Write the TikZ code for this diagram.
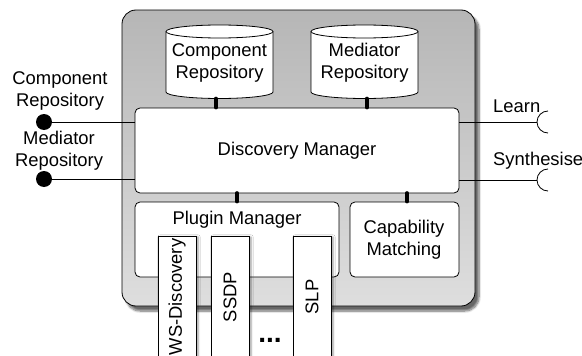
\documentclass[tikz,border=0pt]{standalone}
\usepackage{fontspec}
\setmainfont{Liberation Sans}
\usetikzlibrary{shadows.blur,calc}
\definecolor{grayA}{RGB}{182,182,182}
\definecolor{grayB}{RGB}{222,222,222}
\tikzset{
  lbl/.style={align=center,inner sep=0pt,font=\fontsize{18.4}{22}\selectfont},
  ibox/.style={draw=black,line width=0.8pt,fill=white,rounded corners=5pt,inner sep=0pt},
  plug/.style={draw=black,line width=0.8pt,fill=white,inner sep=0pt,minimum width=38pt,minimum height=122pt,
    blur shadow={shadow xshift=2pt,shadow yshift=-1pt,shadow blur steps=5,shadow opacity=40}},
  link/.style={line width=3.6pt,line cap=round},
  wire/.style={line width=0.8pt},
  cyl/.style={draw=black,line width=0.8pt,fill=white},
}
\begin{document}
\begin{tikzpicture}[x=1pt,y=-1pt]
\useasboundingbox (0,0) rectangle (582,356);
% outer container
\node[draw=black,line width=0.8pt,rounded corners=14pt,minimum width=353pt,minimum height=296pt,
  top color=grayA,bottom color=grayB,inner sep=0pt,
  blur shadow={shadow xshift=4pt,shadow yshift=-5pt,shadow blur steps=8,shadow opacity=60}]
  (outer) at (298.5,158) {};
% cylinders
\path[cyl] (166,31.5) -- (166,92) arc (180:360:53.5pt and 6.5pt) -- (273,31.5) arc (0:180:53.5pt and 6.5pt) -- cycle;
\draw[line width=0.8pt] (166,31.5) arc (180:360:53.5pt and 6.5pt);
\node[lbl] (crepo) at (219.5,63) {Component\\Repository};
\coordinate (crepoB) at (216,98.5);
\path[cyl] (311,31.5) -- (311,92) arc (180:360:53.5pt and 6.5pt) -- (418,31.5) arc (0:180:53.5pt and 6.5pt) -- cycle;
\draw[line width=0.8pt] (311,31.5) arc (180:360:53.5pt and 6.5pt);
\node[lbl] (mrepo) at (364.5,63) {Mediator\\Repository};
\coordinate (mrepoB) at (367,98.5);
% discovery manager
\node[ibox,minimum width=324pt,minimum height=85pt] (dm) at (297,150.5) {};
\node[lbl] (dmt) at (297,151) {Discovery Manager};
% plugin manager
\node[ibox,minimum width=204pt,minimum height=75pt] (pm) at (237,239.5) {};
\node[lbl] (pmt) at (237,220) {Plugin Manager};
% capability matching
\node[ibox,minimum width=109pt,minimum height=75pt] (cm) at (404.5,239.5) {};
\node[lbl] (cmt) at (404,240) {Capability\\Matching};
% plugins
\node[plug] (ws) at (177,297) {\rotatebox{90}{\fontsize{18.4}{22}\selectfont WS-Discovery}};
\node[plug] (ssdp) at (230,297) {\rotatebox{90}{\fontsize{18.4}{22}\selectfont SSDP}};
\node[plug] (slp) at (312,297) {\rotatebox{90}{\fontsize{18.4}{22}\selectfont SLP}};
\node[inner sep=0pt,font=\bfseries\fontsize{28}{28}\selectfont] (dots) at (270,340) {...};
% internal links
\draw[link] (crepoB) -- (crepoB |- dm.north);
\draw[link] (mrepoB) -- (mrepoB |- dm.north);
\coordinate (pmL) at (237,193);
\coordinate (cmL) at (407,193);
\draw[link] (pmL) -- (pmL |- pm.north);
\draw[link] (cmL) -- (cmL |- cm.north);
% left provided interfaces
\node[lbl] (lcr) at (60,90.5) {Component\\Repository};
\node[lbl] (lmr) at (59,151) {Mediator\\Repository};
\node[circle,fill=black,minimum size=16pt,inner sep=0pt] (d1) at (44,122) {};
\node[circle,fill=black,minimum size=16pt,inner sep=0pt] (d2) at (44,179) {};
\draw[wire] (d1) -- (d1 -| dm.west);
\draw[wire] (d2) -- (d2 -| dm.west);
% right required interfaces
\node[lbl,anchor=west] (learn) at (493,106) {Learn};
\node[lbl,anchor=west] (synth) at (493,161) {Synthesise};
\coordinate (s1) at (537,122);
\coordinate (s2) at (537,180);
\draw[wire] (s1 -| dm.east) -- (s1);
\draw[wire] (s2 -| dm.east) -- (s2);
\draw[wire] (548,111) arc (90:270:11pt);
\draw[wire] (548,169) arc (90:270:11pt);
\end{tikzpicture}
\end{document}
